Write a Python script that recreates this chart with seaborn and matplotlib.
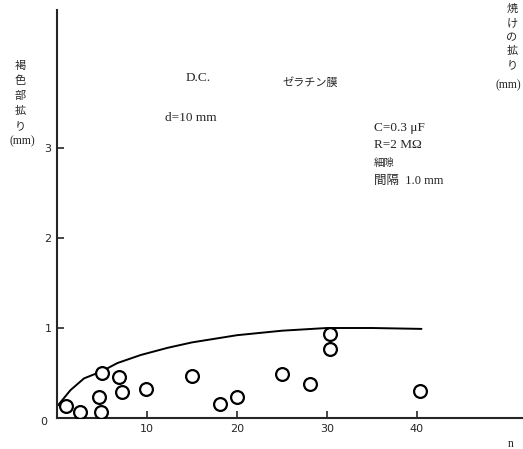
import matplotlib
matplotlib.use("Agg")
import matplotlib.pyplot as plt
import seaborn as sns
import pandas as pd

# observed points (n, spread mm)
pt_n = [1.0, 2.6, 5.0, 4.7, 4.9, 6.9, 7.2, 9.9, 15.0, 18.1, 20.0, 25.0, 28.1, 30.3, 30.3, 40.3]
pt_y = [0.13, 0.07, 0.50, 0.23, 0.07, 0.46, 0.29, 0.32, 0.47, 0.16, 0.23, 0.49, 0.38, 0.93, 0.77, 0.30]

# envelope curve
curve_n = [0.1, 1.5, 3.0, 5.0, 6.7, 9.3, 12.3, 15, 20, 25, 30, 35, 40.5]
curve_y = [0.14, 0.31, 0.44, 0.52, 0.61, 0.70, 0.78, 0.84, 0.92, 0.97, 1.00, 1.00, 0.99]

y_ticks = [1, 2, 3]
x_ticks = [10, 20, 30, 40]

sns.set_style("ticks")
plt.rcParams['font.family'] = ['Liberation Serif', 'Noto Sans CJK JP', 'DejaVu Sans']

W, H = 523, 449
fig = plt.figure(figsize=(W / 100, H / 100), dpi=100)
ax = fig.add_axes([57 / W, (H - 418) / H, (W - 57) / W, (418 - 10) / H])

df_pts = pd.DataFrame({"n": pt_n, "y": pt_y})
df_curve = pd.DataFrame({"n": curve_n, "y": curve_y})

sns.lineplot(data=df_curve, x="n", y="y", ax=ax, color="black", linewidth=1.4, sort=True)
sns.scatterplot(data=df_pts, x="n", y="y", ax=ax, marker="o", s=85,
                facecolor="white", edgecolor="black", linewidth=1.6, zorder=3)

ax.set_xlim(0, (W - 57) / 9)
ax.set_ylim(0, (418 - 10) / 90)
ax.set_xticks(x_ticks)
ax.set_yticks(y_ticks)
ax.set_xticklabels([str(v) for v in x_ticks], fontsize=8, family='DejaVu Sans')
ax.set_yticklabels([str(v) for v in y_ticks], fontsize=8, family='DejaVu Sans')
ax.tick_params(axis='both', direction='in', length=5, width=1.2, pad=4)
ax.set_xlabel("")
ax.set_ylabel("")
for s in ["top", "right"]:
    ax.spines[s].set_visible(False)
for s in ["left", "bottom"]:
    ax.spines[s].set_linewidth(1.5)

def ft(x, y, s, **kw):
    fig.text(x / W, 1 - y / H, s, **kw)

jp = ['Noto Sans CJK JP', 'DejaVu Sans']
ft(44, 422, "0", fontsize=8, ha="center", va="center", family='DejaVu Sans')
ft(511, 444, "n", fontsize=8.5, ha="center", va="center")

# y-axis label (vertical stacked)
for i, ch in enumerate("褐色部拡り"):
    ft(20, 66 + i * 15, ch, fontsize=8, ha="center", va="center", family=jp)
ft(22, 141, "(mm)", fontsize=8.5, ha="center", va="center")

# top-right label, partly cut by the figure edge in the original
for i, ch in enumerate("焼けの拡り"):
    ft(512, 9 + i * 14, ch, fontsize=8, ha="center", va="center", family=jp)
ft(495, 85, "(mm)", fontsize=8.5, ha="left", va="center")

ft(198, 78, "D.C.", fontsize=9.5, ha="center", va="center")
ft(310, 82, "ゼラチン膜", fontsize=8, ha="center", va="center", family=jp)
ft(165, 118, "d=10 mm", fontsize=9.5, ha="left", va="center")
ft(374, 128, "C=0.3 μF", fontsize=9.5, ha="left", va="center")
ft(374, 145, "R=2 MΩ", fontsize=9.5, ha="left", va="center")
ft(374, 163, "細隙", fontsize=7.5, ha="left", va="center", family=jp)
ft(374, 181, "間隔  1.0 mm", fontsize=9, ha="left", va="center",
   family=['Liberation Serif', 'Noto Sans CJK JP'])

fig.savefig("out.png", dpi=100)
